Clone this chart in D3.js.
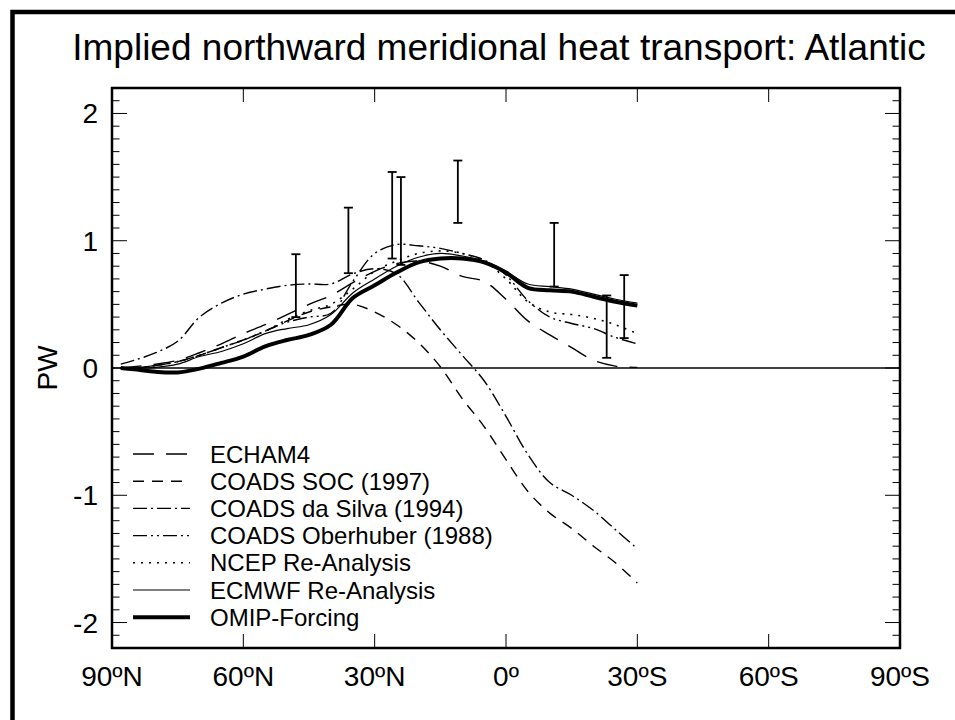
<!DOCTYPE html>
<html>
<head>
<meta charset="utf-8">
<script src="https://cdn.jsdelivr.net/npm/d3@7"></script>
<style>
  body { margin: 0; background: #fff; }
  svg { font-family: "Liberation Sans", Arial, sans-serif; }
</style>
</head>
<body>
<div id="chart"></div>
<script>

// latitude grid (north positive) shared by all series
var lats = [88, 85, 80, 75, 70, 65, 60, 55, 50, 45, 40, 35, 30, 25, 20, 15, 10, 5, 0, -5, -10, -15, -20, -25, -30];

// heat transport in PW
var echam4    = [0.00, 0.01, 0.03, 0.06, 0.12, 0.19, 0.27, 0.34, 0.42, 0.50, 0.57, 0.67, 0.76, 0.82, 0.84, 0.80, 0.72, 0.68, 0.54, 0.37, 0.26, 0.16, 0.06, 0.015, 0.005];
var coadsSoc  = [0.00, 0.00, 0.02, 0.05, 0.10, 0.16, 0.22, 0.29, 0.37, 0.44, 0.48, 0.50, 0.44, 0.34, 0.20, 0.01, -0.24, -0.46, -0.72, -0.97, -1.14, -1.26, -1.40, -1.53, -1.69];
var daSilva   = [0.03, 0.06, 0.12, 0.21, 0.40, 0.51, 0.58, 0.62, 0.65, 0.66, 0.66, 0.74, 0.78, 0.74, 0.52, 0.30, 0.10, -0.10, -0.38, -0.68, -0.90, -1.00, -1.12, -1.27, -1.42];
var oberhuber = [0.00, 0.00, 0.02, 0.05, 0.10, 0.16, 0.22, 0.29, 0.36, 0.40, 0.43, 0.68, 0.90, 0.97, 0.96, 0.94, 0.90, 0.85, 0.73, 0.53, 0.40, 0.35, 0.31, 0.24, 0.19];
var ncep      = [0.00, 0.00, 0.02, 0.05, 0.10, 0.16, 0.22, 0.29, 0.38, 0.45, 0.50, 0.62, 0.76, 0.84, 0.90, 0.92, 0.90, 0.84, 0.70, 0.52, 0.44, 0.42, 0.39, 0.34, 0.27];
var ecmwf     = [0.00, 0.00, 0.005, 0.03, 0.09, 0.13, 0.19, 0.27, 0.31, 0.34, 0.42, 0.59, 0.70, 0.80, 0.87, 0.90, 0.88, 0.84, 0.76, 0.66, 0.64, 0.62, 0.58, 0.54, 0.51];
var omip      = [0.00, -0.01, -0.03, -0.035, -0.005, 0.04, 0.09, 0.17, 0.22, 0.26, 0.34, 0.55, 0.65, 0.75, 0.83, 0.86, 0.86, 0.83, 0.75, 0.63, 0.61, 0.60, 0.56, 0.52, 0.49];

// observational estimates (error bars)
var barLats = [48, 36, 26, 24, 11, -11, -23, -27];
var barLow  = [0.40, 0.745, 0.86, 0.81, 1.14, 0.64, 0.08, 0.235];
var barHigh = [0.894, 1.26, 1.54, 1.50, 1.63, 1.14, 0.57, 0.73];

var seriesNames = ["ECHAM4", "COADS SOC (1997)", "COADS da Silva (1994)", "COADS Oberhuber (1988)", "NCEP Re-Analysis", "ECMWF Re-Analysis", "OMIP-Forcing"];
var xTicks = [90, 60, 30, 0, -30, -60, -90];
var xTickLabels = ["90ºN", "60ºN", "30ºN", "0º", "30ºS", "60ºS", "90ºS"];
var yTicks = [-2, -1, 0, 1, 2];

var seriesValues = [echam4, coadsSoc, daSilva, oberhuber, ncep, ecmwf, omip];
var dashes = ["21,12", "11,8", "14,4,2,4", "14,4,2,4,2,4", "2,6", null, null];
var widths = [1.4, 1.4, 1.4, 1.4, 1.6, 1.2, 4];

var svgWidth = 955;
var svgHeight = 720;
var margin = { top: 88, right: 55, bottom: 72, left: 112 };
var chartWidth = svgWidth - margin.left - margin.right;
var chartHeight = svgHeight - margin.top - margin.bottom;

var svg = d3.select("#chart")
    .append("svg")
    .attr("width", svgWidth)
    .attr("height", svgHeight);

// outer frame (runs off the right and bottom edge)
svg.append("rect")
    .attr("x", 12.5)
    .attr("y", 12)
    .attr("width", 1000)
    .attr("height", 1000)
    .attr("fill", "none")
    .attr("stroke", "#000")
    .attr("stroke-width", 4.5);

svg.append("text")
    .attr("x", 499)
    .attr("y", 60)
    .attr("text-anchor", "middle")
    .attr("font-size", 37)
    .text("Implied northward meridional heat transport: Atlantic");

var chartGroup = svg.append("g")
    .attr("transform", `translate(${margin.left}, ${margin.top})`);

// scales
var xScale = d3.scaleLinear()
    .domain([90, -90])
    .range([0, chartWidth]);

var yScale = d3.scaleLinear()
    .domain([-2.2, 2.2])
    .range([chartHeight, 0]);

// minor/major ticks, drawn inward on all four sides
var yMinor = d3.range(-22, 23).map(d => d / 10);
["left", "right"].forEach(function(side) {
    var x0 = side == "left" ? 0 : chartWidth;
    var dir = side == "left" ? 1 : -1;
    chartGroup.selectAll("line." + side + "y")
        .data(yMinor)
        .enter()
        .append("line")
        .attr("x1", x0)
        .attr("x2", d => x0 + dir * (Math.abs(d - Math.round(d)) < 1e-6 ? 15 : 7.5))
        .attr("y1", d => yScale(d))
        .attr("y2", d => yScale(d))
        .attr("stroke", "#000")
        .attr("stroke-width", 1);
});

chartGroup.selectAll("line.xb")
    .data(xTicks.slice(1, -1))
    .enter()
    .append("line")
    .attr("x1", d => xScale(d))
    .attr("x2", d => xScale(d))
    .attr("y1", chartHeight)
    .attr("y2", chartHeight - 14)
    .attr("stroke", "#000")
    .attr("stroke-width", 1);

chartGroup.selectAll("line.xt")
    .data(xTicks.slice(1, -1))
    .enter()
    .append("line")
    .attr("x1", d => xScale(d))
    .attr("x2", d => xScale(d))
    .attr("y1", 0)
    .attr("y2", 14)
    .attr("stroke", "#000")
    .attr("stroke-width", 1);

// tick labels
chartGroup.selectAll("text.xl")
    .data(xTicks)
    .enter()
    .append("text")
    .attr("x", d => xScale(d))
    .attr("y", chartHeight + 38)
    .attr("text-anchor", "middle")
    .attr("font-size", 28)
    .text((d, i) => xTickLabels[i]);

chartGroup.selectAll("text.yl")
    .data(yTicks)
    .enter()
    .append("text")
    .attr("x", -14)
    .attr("y", d => yScale(d) + 10)
    .attr("text-anchor", "end")
    .attr("font-size", 28)
    .text(d => d);

chartGroup.append("text")
    .attr("transform", `translate(-55, ${yScale(0)}) rotate(-90)`)
    .attr("text-anchor", "middle")
    .attr("font-size", 28)
    .text("PW");

// zero line
chartGroup.append("line")
    .attr("x1", 0)
    .attr("x2", chartWidth)
    .attr("y1", yScale(0))
    .attr("y2", yScale(0))
    .attr("stroke", "#000")
    .attr("stroke-width", 1.3);

// curves
var line = d3.line()
    .x((d, i) => xScale(lats[i]))
    .y(d => yScale(d))
    .curve(d3.curveCatmullRom.alpha(0.5));

seriesValues.forEach(function(vals, k) {
    chartGroup.append("path")
        .datum(vals)
        .attr("d", line)
        .attr("fill", "none")
        .attr("stroke", "#000")
        .attr("stroke-width", widths[k])
        .attr("stroke-dasharray", dashes[k]);
});

// error bars
var bars = chartGroup.selectAll("g.bar")
    .data(barLats)
    .enter()
    .append("g");

bars.append("line")
    .attr("x1", d => xScale(d))
    .attr("x2", d => xScale(d))
    .attr("y1", (d, i) => yScale(barLow[i]))
    .attr("y2", (d, i) => yScale(barHigh[i]))
    .attr("stroke", "#000")
    .attr("stroke-width", 1.8);

bars.append("line")
    .attr("x1", d => xScale(d) - 4.5)
    .attr("x2", d => xScale(d) + 4.5)
    .attr("y1", (d, i) => yScale(barLow[i]))
    .attr("y2", (d, i) => yScale(barLow[i]))
    .attr("stroke", "#000")
    .attr("stroke-width", 1.8);

bars.append("line")
    .attr("x1", d => xScale(d) - 4.5)
    .attr("x2", d => xScale(d) + 4.5)
    .attr("y1", (d, i) => yScale(barHigh[i]))
    .attr("y2", (d, i) => yScale(barHigh[i]))
    .attr("stroke", "#000")
    .attr("stroke-width", 1.8);

// legend
var legend = chartGroup.selectAll("g.legend")
    .data(seriesNames)
    .enter()
    .append("g")
    .attr("transform", (d, i) => `translate(0, ${366 + i * 27.2})`);

legend.append("line")
    .attr("x1", 21)
    .attr("x2", 78)
    .attr("y1", 0)
    .attr("y2", 0)
    .attr("stroke", "#000")
    .attr("stroke-width", (d, i) => widths[i])
    .attr("stroke-dasharray", (d, i) => dashes[i]);

legend.append("text")
    .attr("x", 98)
    .attr("y", 8.5)
    .attr("font-size", 24)
    .text(d => d);

// axes box
chartGroup.append("rect")
    .attr("width", chartWidth)
    .attr("height", chartHeight)
    .attr("fill", "none")
    .attr("stroke", "#000")
    .attr("stroke-width", 2.5);

</script>
</body>
</html>
